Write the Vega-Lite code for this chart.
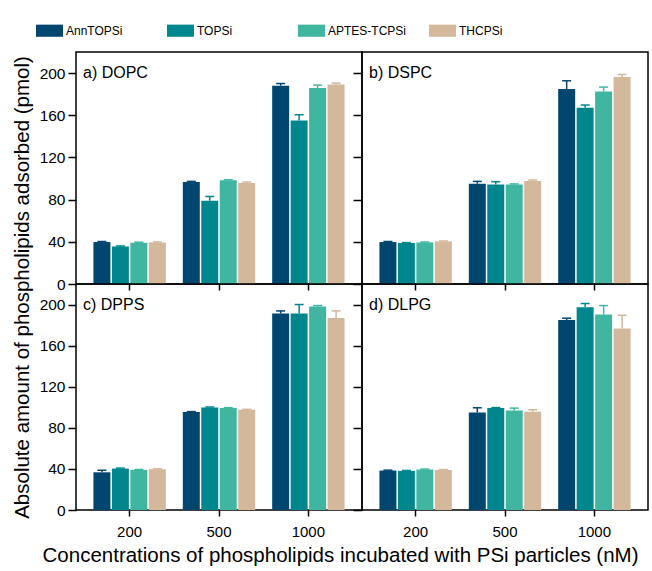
{
  "$schema": "https://vega.github.io/schema/vega-lite/v6.json",
  "padding": {"left": 11, "top": 17, "right": 0, "bottom": 2},
  "background": "white",
  "datasets": {
    "bars": [
      {"panel": "DOPC", "conc": "200", "sample": "AnnTOPSi", "value": 39.8, "upper": 40.3},
      {"panel": "DOPC", "conc": "200", "sample": "TOPSi", "value": 35.6, "upper": 36.1},
      {"panel": "DOPC", "conc": "200", "sample": "APTES-TCPSi", "value": 39.1, "upper": 39.6},
      {"panel": "DOPC", "conc": "200", "sample": "THCPSi", "value": 39.4, "upper": 39.9},
      {"panel": "DOPC", "conc": "500", "sample": "AnnTOPSi", "value": 96.7, "upper": 97.3},
      {"panel": "DOPC", "conc": "500", "sample": "TOPSi", "value": 79.0, "upper": 83.0},
      {"panel": "DOPC", "conc": "500", "sample": "APTES-TCPSi", "value": 98.4, "upper": 98.9},
      {"panel": "DOPC", "conc": "500", "sample": "THCPSi", "value": 95.7, "upper": 96.7},
      {"panel": "DOPC", "conc": "1000", "sample": "AnnTOPSi", "value": 188.0, "upper": 190.1},
      {"panel": "DOPC", "conc": "1000", "sample": "TOPSi", "value": 155.1, "upper": 160.5},
      {"panel": "DOPC", "conc": "1000", "sample": "APTES-TCPSi", "value": 185.8, "upper": 188.6},
      {"panel": "DOPC", "conc": "1000", "sample": "THCPSi", "value": 189.2, "upper": 190.5},
      {"panel": "DSPC", "conc": "200", "sample": "AnnTOPSi", "value": 39.8, "upper": 40.3},
      {"panel": "DSPC", "conc": "200", "sample": "TOPSi", "value": 38.9, "upper": 39.3},
      {"panel": "DSPC", "conc": "200", "sample": "APTES-TCPSi", "value": 39.4, "upper": 39.8},
      {"panel": "DSPC", "conc": "200", "sample": "THCPSi", "value": 40.4, "upper": 40.8},
      {"panel": "DSPC", "conc": "500", "sample": "AnnTOPSi", "value": 95.1, "upper": 97.3},
      {"panel": "DSPC", "conc": "500", "sample": "TOPSi", "value": 94.4, "upper": 97.0},
      {"panel": "DSPC", "conc": "500", "sample": "APTES-TCPSi", "value": 94.4, "upper": 94.9},
      {"panel": "DSPC", "conc": "500", "sample": "THCPSi", "value": 97.6, "upper": 98.6},
      {"panel": "DSPC", "conc": "1000", "sample": "AnnTOPSi", "value": 184.8, "upper": 192.7},
      {"panel": "DSPC", "conc": "1000", "sample": "TOPSi", "value": 167.1, "upper": 169.7},
      {"panel": "DSPC", "conc": "1000", "sample": "APTES-TCPSi", "value": 182.6, "upper": 186.7},
      {"panel": "DSPC", "conc": "1000", "sample": "THCPSi", "value": 196.2, "upper": 198.7},
      {"panel": "DPPS", "conc": "200", "sample": "AnnTOPSi", "value": 36.7, "upper": 38.7},
      {"panel": "DPPS", "conc": "200", "sample": "TOPSi", "value": 40.3, "upper": 40.8},
      {"panel": "DPPS", "conc": "200", "sample": "APTES-TCPSi", "value": 39.0, "upper": 39.4},
      {"panel": "DPPS", "conc": "200", "sample": "THCPSi", "value": 39.7, "upper": 40.1},
      {"panel": "DPPS", "conc": "500", "sample": "AnnTOPSi", "value": 95.3, "upper": 95.8},
      {"panel": "DPPS", "conc": "500", "sample": "TOPSi", "value": 99.8, "upper": 100.3},
      {"panel": "DPPS", "conc": "500", "sample": "APTES-TCPSi", "value": 99.2, "upper": 99.6},
      {"panel": "DPPS", "conc": "500", "sample": "THCPSi", "value": 97.6, "upper": 98.0},
      {"panel": "DPPS", "conc": "1000", "sample": "AnnTOPSi", "value": 191.2, "upper": 193.8},
      {"panel": "DPPS", "conc": "1000", "sample": "TOPSi", "value": 191.2, "upper": 200.0},
      {"panel": "DPPS", "conc": "1000", "sample": "APTES-TCPSi", "value": 198.0, "upper": 199.0},
      {"panel": "DPPS", "conc": "1000", "sample": "THCPSi", "value": 187.0, "upper": 193.8},
      {"panel": "DLPG", "conc": "200", "sample": "AnnTOPSi", "value": 38.4, "upper": 38.8},
      {"panel": "DLPG", "conc": "200", "sample": "TOPSi", "value": 38.1, "upper": 38.5},
      {"panel": "DLPG", "conc": "200", "sample": "APTES-TCPSi", "value": 39.4, "upper": 39.8},
      {"panel": "DLPG", "conc": "200", "sample": "THCPSi", "value": 39.0, "upper": 39.4},
      {"panel": "DLPG", "conc": "500", "sample": "AnnTOPSi", "value": 94.9, "upper": 99.5},
      {"panel": "DLPG", "conc": "500", "sample": "TOPSi", "value": 99.2, "upper": 99.7},
      {"panel": "DLPG", "conc": "500", "sample": "APTES-TCPSi", "value": 96.9, "upper": 99.2},
      {"panel": "DLPG", "conc": "500", "sample": "THCPSi", "value": 95.6, "upper": 97.6},
      {"panel": "DLPG", "conc": "1000", "sample": "AnnTOPSi", "value": 185.0, "upper": 186.7},
      {"panel": "DLPG", "conc": "1000", "sample": "TOPSi", "value": 197.4, "upper": 201.0},
      {"panel": "DLPG", "conc": "1000", "sample": "APTES-TCPSi", "value": 190.2, "upper": 199.0},
      {"panel": "DLPG", "conc": "1000", "sample": "THCPSi", "value": 176.6, "upper": 189.6}
    ]
  },
  "data": {"name": "bars"},
  "spacing": 0,
  "bounds": "flush",
  "columns": 2,
  "concat": [
    {
      "width": 286, "height": 232,
      "title": {"text": "a) DOPC", "anchor": "start", "frame": "group", "offset": -29, "dx": 7, "fontSize": 16, "fontWeight": "normal", "color": "black"},
      "transform": [{"filter": "datum.panel === 'DOPC'"}],
      "encoding": {
        "x": {"field": "conc", "type": "ordinal", "sort": ["200", "500", "1000"], "scale": {"paddingInner": 0.19, "paddingOuter": 0.195}, "axis": {"labels": false, "title": null, "tickSize": 6}},
        "xOffset": {"field": "sample", "type": "nominal", "sort": ["AnnTOPSi", "TOPSi", "APTES-TCPSi", "THCPSi"], "scale": {"paddingInner": 0.08}},
        "color": {"field": "sample", "type": "nominal", "sort": ["AnnTOPSi", "TOPSi", "APTES-TCPSi", "THCPSi"], "scale": {"domain": ["AnnTOPSi", "TOPSi", "APTES-TCPSi", "THCPSi"], "range": ["#00466F", "#00878E", "#40B6A1", "#D4B89B"]}}
      },
      "layer": [
        {"mark": {"type": "bar"}, "encoding": {"y": {"field": "value", "type": "quantitative", "scale": {"domain": [0, 220], "nice": false}, "axis": {"values": [0, 20, 40, 60, 80, 100, 120, 140, 160, 180, 200], "labelExpr": "datum.value % 40 === 0 ? datum.label : ''", "tickSize": {"condition": {"test": "datum.value % 40 === 0", "value": 8}, "value": 5}, "labelFontSize": 15.5, "title": "Absolute amount of phospholipids adsorbed (pmol)", "titleFontSize": 20.5, "titleY": 235, "titlePadding": 7}}}},
        {"mark": {"type": "rule", "strokeWidth": 1.5}, "encoding": {"y": {"field": "value", "type": "quantitative"}, "y2": {"field": "upper"}}},
        {"mark": {"type": "tick", "thickness": 1.5, "size": 9, "opacity": 1}, "encoding": {"y": {"field": "upper", "type": "quantitative"}}}
      ]
    },
    {
      "width": 286, "height": 232,
      "title": {"text": "b) DSPC", "anchor": "start", "frame": "group", "offset": -29, "dx": 7, "fontSize": 16, "fontWeight": "normal", "color": "black"},
      "transform": [{"filter": "datum.panel === 'DSPC'"}],
      "encoding": {
        "x": {"field": "conc", "type": "ordinal", "sort": ["200", "500", "1000"], "scale": {"paddingInner": 0.19, "paddingOuter": 0.195}, "axis": {"labels": false, "title": null, "tickSize": 6}},
        "xOffset": {"field": "sample", "type": "nominal", "sort": ["AnnTOPSi", "TOPSi", "APTES-TCPSi", "THCPSi"], "scale": {"paddingInner": 0.08}},
        "color": {"field": "sample", "type": "nominal", "sort": ["AnnTOPSi", "TOPSi", "APTES-TCPSi", "THCPSi"], "scale": {"domain": ["AnnTOPSi", "TOPSi", "APTES-TCPSi", "THCPSi"], "range": ["#00466F", "#00878E", "#40B6A1", "#D4B89B"]}}
      },
      "layer": [
        {"mark": {"type": "bar"}, "encoding": {"y": {"field": "value", "type": "quantitative", "scale": {"domain": [0, 220], "nice": false}, "axis": {"values": [0, 20, 40, 60, 80, 100, 120, 140, 160, 180, 200], "labels": false, "tickSize": {"condition": {"test": "datum.value % 40 === 0", "value": 9}, "value": 5}, "title": null}}}},
        {"mark": {"type": "rule", "strokeWidth": 1.5}, "encoding": {"y": {"field": "value", "type": "quantitative"}, "y2": {"field": "upper"}}},
        {"mark": {"type": "tick", "thickness": 1.5, "size": 9, "opacity": 1}, "encoding": {"y": {"field": "upper", "type": "quantitative"}}}
      ]
    },
    {
      "width": 286, "height": 226,
      "title": {"text": "c) DPPS", "anchor": "start", "frame": "group", "offset": -29, "dx": 7, "fontSize": 16, "fontWeight": "normal", "color": "black"},
      "transform": [{"filter": "datum.panel === 'DPPS'"}],
      "encoding": {
        "x": {"field": "conc", "type": "ordinal", "sort": ["200", "500", "1000"], "scale": {"paddingInner": 0.19, "paddingOuter": 0.195}, "axis": {"labelAngle": 0, "labelFontSize": 15, "labelPadding": 8, "tickSize": 6, "title": "Concentrations of phospholipids incubated with PSi particles (nM)", "titleFontSize": 20.5, "titleX": 264, "titlePadding": 6}},
        "xOffset": {"field": "sample", "type": "nominal", "sort": ["AnnTOPSi", "TOPSi", "APTES-TCPSi", "THCPSi"], "scale": {"paddingInner": 0.08}},
        "color": {"field": "sample", "type": "nominal", "sort": ["AnnTOPSi", "TOPSi", "APTES-TCPSi", "THCPSi"], "scale": {"domain": ["AnnTOPSi", "TOPSi", "APTES-TCPSi", "THCPSi"], "range": ["#00466F", "#00878E", "#40B6A1", "#D4B89B"]}}
      },
      "layer": [
        {"mark": {"type": "bar"}, "encoding": {"y": {"field": "value", "type": "quantitative", "scale": {"domain": [0, 220], "nice": false}, "axis": {"values": [0, 20, 40, 60, 80, 100, 120, 140, 160, 180, 200], "labelExpr": "datum.value % 40 === 0 ? datum.label : ''", "tickSize": {"condition": {"test": "datum.value % 40 === 0", "value": 8}, "value": 5}, "labelFontSize": 15.5, "title": null}}}},
        {"mark": {"type": "rule", "strokeWidth": 1.5}, "encoding": {"y": {"field": "value", "type": "quantitative"}, "y2": {"field": "upper"}}},
        {"mark": {"type": "tick", "thickness": 1.5, "size": 9, "opacity": 1}, "encoding": {"y": {"field": "upper", "type": "quantitative"}}}
      ]
    },
    {
      "width": 286, "height": 226,
      "title": {"text": "d) DLPG", "anchor": "start", "frame": "group", "offset": -29, "dx": 7, "fontSize": 16, "fontWeight": "normal", "color": "black"},
      "transform": [{"filter": "datum.panel === 'DLPG'"}],
      "encoding": {
        "x": {"field": "conc", "type": "ordinal", "sort": ["200", "500", "1000"], "scale": {"paddingInner": 0.19, "paddingOuter": 0.195}, "axis": {"labelAngle": 0, "labelFontSize": 15, "labelPadding": 8, "tickSize": 6, "title": null}},
        "xOffset": {"field": "sample", "type": "nominal", "sort": ["AnnTOPSi", "TOPSi", "APTES-TCPSi", "THCPSi"], "scale": {"paddingInner": 0.08}},
        "color": {"field": "sample", "type": "nominal", "sort": ["AnnTOPSi", "TOPSi", "APTES-TCPSi", "THCPSi"], "scale": {"domain": ["AnnTOPSi", "TOPSi", "APTES-TCPSi", "THCPSi"], "range": ["#00466F", "#00878E", "#40B6A1", "#D4B89B"]}}
      },
      "layer": [
        {"mark": {"type": "bar"}, "encoding": {"y": {"field": "value", "type": "quantitative", "scale": {"domain": [0, 220], "nice": false}, "axis": {"values": [0, 20, 40, 60, 80, 100, 120, 140, 160, 180, 200], "labels": false, "tickSize": {"condition": {"test": "datum.value % 40 === 0", "value": 9}, "value": 5}, "title": null}}}},
        {"mark": {"type": "rule", "strokeWidth": 1.5}, "encoding": {"y": {"field": "value", "type": "quantitative"}, "y2": {"field": "upper"}}},
        {"mark": {"type": "tick", "thickness": 1.5, "size": 9, "opacity": 1}, "encoding": {"y": {"field": "upper", "type": "quantitative"}}}
      ]
    }
  ],
  "config": {
    "font": "Liberation Sans",
    "view": {"stroke": "black", "strokeWidth": 1.5},
    "axis": {"domain": false, "grid": false, "labelColor": "black", "tickColor": "black", "tickWidth": 1.5, "titleColor": "black", "titleFontWeight": "normal", "labelFont": "Liberation Sans", "titleFont": "Liberation Sans", "labelPadding": 3},
    "legend": {
      "orient": "none", "legendX": -40, "legendY": -35, "direction": "horizontal",
      "gridAlign": "all", "columnPadding": 22, "title": null,
      "symbolType": "M-1,-0.45L1,-0.45L1,0.45L-1,0.45Z", "symbolSize": 729, "symbolStrokeWidth": 0, "symbolOpacity": 1,
      "labelFontSize": 12, "labelColor": "black", "labelOffset": 3, "labelFont": "Liberation Sans"
    }
  }
}
